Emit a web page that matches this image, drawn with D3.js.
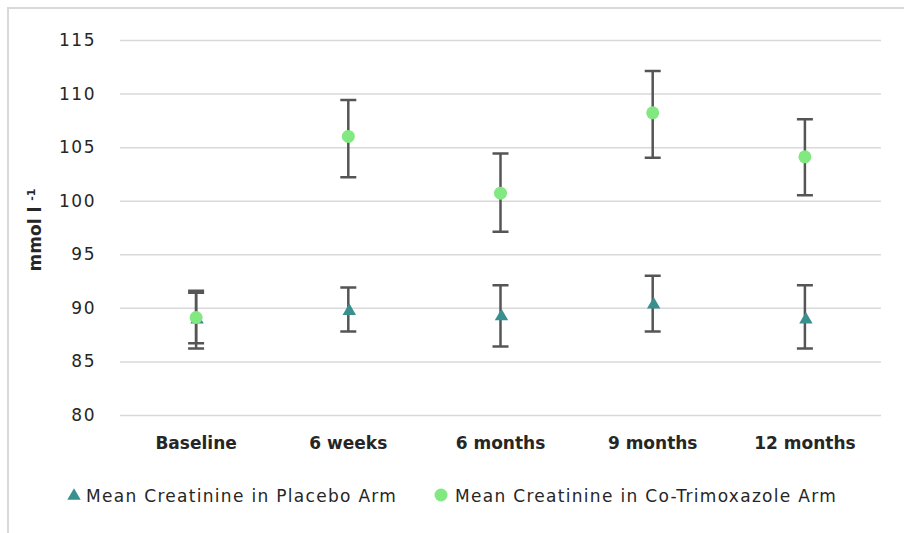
<!DOCTYPE html>
<html>
<head>
<meta charset="utf-8">
<script src="https://cdn.jsdelivr.net/npm/d3@7"></script>
<style>
  body { margin: 0; background: #fff; }
  text { font-family: "DejaVu Sans", Verdana, sans-serif; fill: #262626; }
</style>
</head>
<body>
<script>
// data
const categories = ['Baseline', '6 weeks', '6 months', '9 months', '12 months'];
const placeboMean = [88.9, 89.7, 89.2, 90.3, 88.9];
const placeboLow = [86.2, 87.8, 86.4, 87.8, 86.2];
const placeboHigh = [91.4, 91.9, 92.1, 93.0, 92.1];
const cotrimMean = [89.1, 106.0, 100.7, 108.2, 104.1];
const cotrimLow = [86.7, 102.2, 97.1, 104.0, 100.5];
const cotrimHigh = [91.6, 109.4, 104.4, 112.1, 107.6];
const yTicks = [80, 85, 90, 95, 100, 105, 110, 115];
const legendLabels = ['Mean Creatinine in Placebo Arm', 'Mean Creatinine in Co-Trimoxazole Arm'];

let width = 904;
let height = 533;
let plot = { left: 120, right: 881, top: 40, bottom: 415 };

let svg = d3.select('body').append('svg')
   .attr('width', width)
   .attr('height', height);

// outer frame (left + top edges only visible)
svg.append('path')
   .attr('d', `M8,${height} V8 H${width}`)
   .attr('fill', 'none')
   .attr('stroke', '#d9d9d9')
   .attr('stroke-width', 2);

let x = d3.scaleBand().domain(categories).range([plot.left, plot.right]);
let y = d3.scaleLinear().domain([80, 115]).range([plot.bottom, plot.top]);

// y axis with gridlines
let yAxis = svg.append('g')
   .attr('transform', `translate(${plot.left},0)`)
   .call(d3.axisLeft(y).tickValues(yTicks).tickSize(-(plot.right - plot.left)).tickPadding(24));
yAxis.select('.domain').remove();
yAxis.selectAll('.tick line').attr('stroke', '#d9d9d9').attr('stroke-width', 1.5);
yAxis.selectAll('.tick text')
   .style('font-size', '17px')
   .attr('letter-spacing', '1.5px')
   .attr('fill', '#262626');

// x axis labels
let xAxis = svg.append('g')
   .attr('transform', `translate(0,${plot.bottom})`)
   .call(d3.axisBottom(x).tickSize(0).tickPadding(22));
xAxis.select('.domain').remove();
xAxis.selectAll('.tick text')
   .style('font-size', '17px')
   .style('font-weight', 'bold')
   .attr('fill', '#262626');

// y axis title
let yTitle = svg.append('text')
   .attr('transform', 'translate(41,230) rotate(-90)')
   .attr('text-anchor', 'middle')
   .style('font-size', '17px')
   .style('font-weight', 'bold');
yTitle.append('tspan').text('mmol l ');
yTitle.append('tspan').attr('baseline-shift', 'super').style('font-size', '11px').text('-1');

let cx = (i) => x(categories[i]) + x.bandwidth() / 2;
let capHalf = 8;

let drawErrorBars = (low, high) => {
   let g = svg.append('g').attr('stroke', '#555').attr('stroke-width', 2.5).attr('fill', 'none');
   g.selectAll('path')
      .data(categories)
      .enter()
      .append('path')
      .attr('d', (d, i) => {
         let c = cx(i), y1 = y(low[i]), y2 = y(high[i]);
         return `M${c},${y1}V${y2}M${c - capHalf},${y1}H${c + capHalf}M${c - capHalf},${y2}H${c + capHalf}`;
      });
};

drawErrorBars(placeboLow, placeboHigh);
drawErrorBars(cotrimLow, cotrimHigh);

let triangle = d3.symbol().type(d3.symbolTriangle).size(78);
let teal = '#3a8f8f';
let green = '#82e882';

svg.append('g').selectAll('path')
   .data(placeboMean)
   .enter()
   .append('path')
   .attr('d', triangle)
   .attr('transform', (d, i) => `translate(${cx(i) + 1},${y(d)})`)
   .attr('fill', teal);

svg.append('g').selectAll('circle')
   .data(cotrimMean)
   .enter()
   .append('circle')
   .attr('cx', (d, i) => cx(i))
   .attr('cy', (d) => y(d))
   .attr('r', 6.5)
   .attr('fill', green);

// legend
let legend = svg.append('g');
legend.append('path')
   .attr('d', triangle)
   .attr('transform', 'translate(74,496)')
   .attr('fill', teal);
legend.append('text')
   .attr('x', 86).attr('y', 502)
   .style('font-size', '17px')
   .attr('letter-spacing', '1.3px')
   .text(legendLabels[0]);
legend.append('circle')
   .attr('cx', 441).attr('cy', 495).attr('r', 6.5)
   .attr('fill', green);
legend.append('text')
   .attr('x', 455).attr('y', 502)
   .style('font-size', '17px')
   .attr('letter-spacing', '1.3px')
   .text(legendLabels[1]);
</script>
</body>
</html>
